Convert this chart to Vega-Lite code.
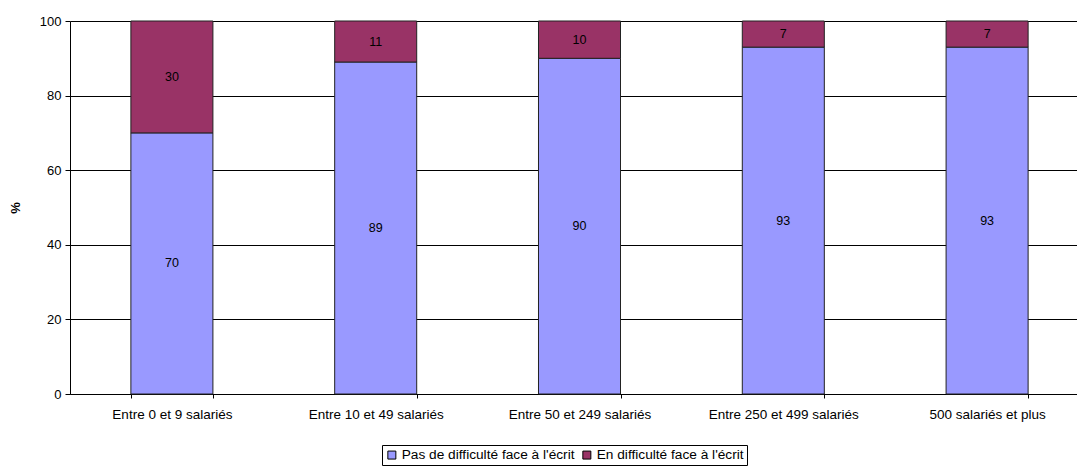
{
  "$schema": "https://vega.github.io/schema/vega-lite/v6.json",
  "width": 1019,
  "height": 373,
  "autosize": "none",
  "padding": {"left": 70, "top": 21, "right": 0, "bottom": 75},
  "config": {"font": "Liberation Sans", "view": {"stroke": null}},
  "data": {
    "values": [
      {"cat": "Entre 0 et 9 salariés", "serie": "Pas de difficulté face à l'écrit", "k": 1, "value": 70},
      {"cat": "Entre 0 et 9 salariés", "serie": "En difficulté face à l'écrit", "k": 2, "value": 30},
      {"cat": "Entre 10 et 49 salariés", "serie": "Pas de difficulté face à l'écrit", "k": 1, "value": 89},
      {"cat": "Entre 10 et 49 salariés", "serie": "En difficulté face à l'écrit", "k": 2, "value": 11},
      {"cat": "Entre 50 et 249 salariés", "serie": "Pas de difficulté face à l'écrit", "k": 1, "value": 90},
      {"cat": "Entre 50 et 249 salariés", "serie": "En difficulté face à l'écrit", "k": 2, "value": 10},
      {"cat": "Entre 250 et 499 salariés", "serie": "Pas de difficulté face à l'écrit", "k": 1, "value": 93},
      {"cat": "Entre 250 et 499 salariés", "serie": "En difficulté face à l'écrit", "k": 2, "value": 7},
      {"cat": "500 salariés et plus", "serie": "Pas de difficulté face à l'écrit", "k": 1, "value": 93},
      {"cat": "500 salariés et plus", "serie": "En difficulté face à l'écrit", "k": 2, "value": 7}
    ]
  },
  "transform": [
    {"stack": "value", "groupby": ["cat"], "sort": [{"field": "k", "order": "ascending"}], "as": ["y0", "y1"]}
  ],
  "encoding": {
    "x": {
      "field": "cat", "type": "nominal", "sort": null,
      "scale": {"paddingInner": 0.5975, "paddingOuter": 0.29875},
      "axis": {
        "title": null, "labelAngle": 0, "labelFontSize": 13.5, "labelColor": "#000000",
        "domainColor": "#000000", "tickColor": "#000000", "tickSize": 4, "tickBand": "extent",
        "labelPadding": 9
      }
    }
  },
  "layer": [
    {
      "mark": {"type": "bar", "stroke": "#222222", "strokeWidth": 1},
      "encoding": {
        "y": {
          "field": "y1", "type": "quantitative",
          "scale": {"domain": [0, 100], "nice": false},
          "axis": {
            "title": "%", "titleFontWeight": "bold", "titleFontSize": 13, "titleColor": "#000000", "titlePadding": 17,
            "values": [0, 20, 40, 60, 80, 100], "labelFontSize": 13, "labelColor": "#000000",
            "grid": true, "gridColor": "#000000", "gridWidth": 1,
            "domainColor": "#000000", "tickColor": "#000000", "tickSize": 5, "labelPadding": 4
          }
        },
        "y2": {"field": "y0"},
        "color": {
          "field": "serie", "type": "nominal",
          "scale": {"domain": ["Pas de difficulté face à l'écrit", "En difficulté face à l'écrit"], "range": ["#9999FF", "#993366"]},
          "legend": {
            "title": null, "orient": "none", "legendX": 312, "legendY": 424, "direction": "horizontal",
            "strokeColor": "#000000", "padding": 3, "symbolType": "square", "symbolSize": 64,
            "symbolStrokeColor": "#000000", "symbolStrokeWidth": 1, "labelFontSize": 13.7, "labelColor": "#000000",
            "labelLimit": 400, "columnPadding": 5, "symbolOffset": 0, "labelOffset": 3
          }
        }
      }
    },
    {
      "transform": [{"fold": ["y0", "y1"], "as": ["edge", "v"]}],
      "mark": {"type": "text", "fontSize": 12.5, "color": "#000000", "baseline": "middle"},
      "encoding": {
        "y": {"field": "v", "type": "quantitative", "aggregate": "mean"},
        "detail": {"field": "serie", "type": "nominal"},
        "text": {"field": "value", "type": "quantitative"}
      }
    }
  ]
}
